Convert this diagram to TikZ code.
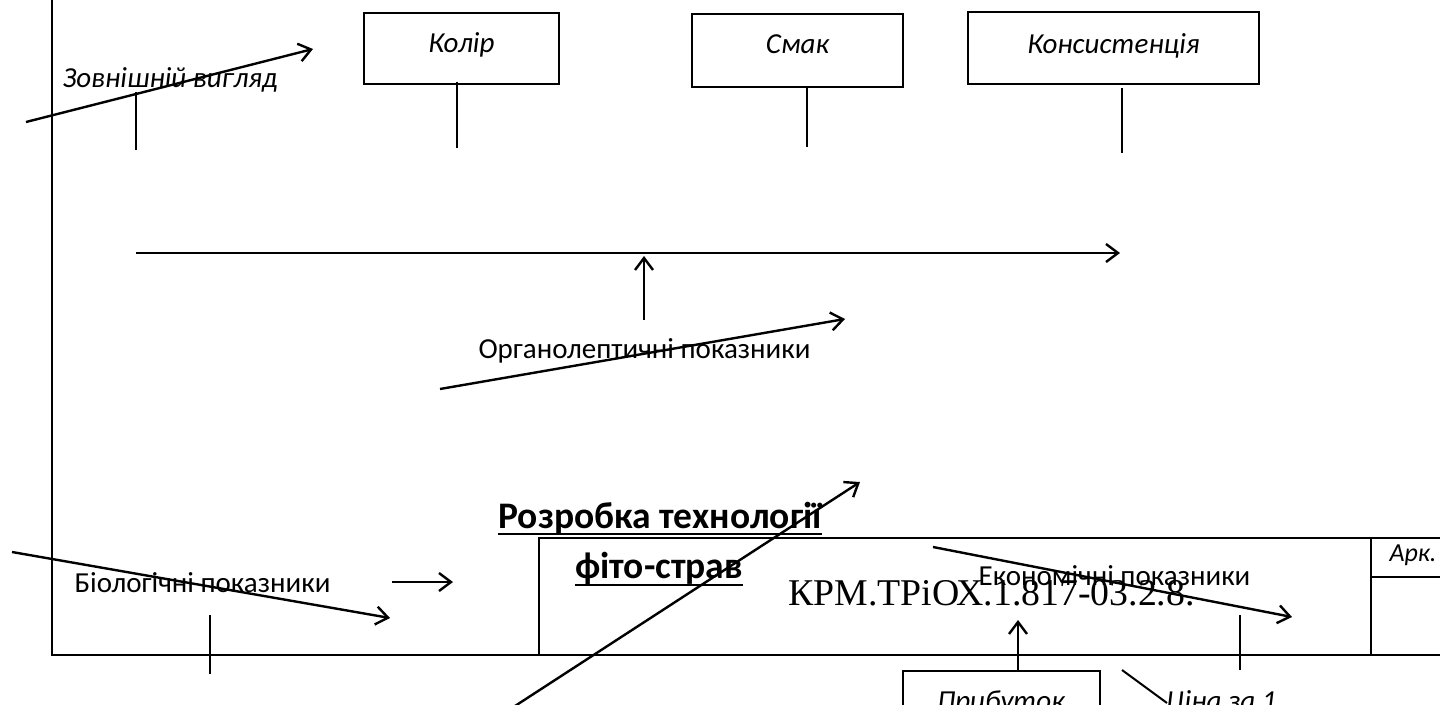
\documentclass[tikz,border=0pt]{standalone}
\usepackage{fontspec}
\setmainfont{Carlito}
\newfontfamily\tnr{Liberation Serif}
\usetikzlibrary{arrows.meta}
\begin{document}
\begin{tikzpicture}[x=1pt,y=-1pt,
  thinline/.style={line width=1.4pt},
  frameline/.style={line width=2pt},
  arr/.style={line width=2.4pt,-{Straight Barb[length=12pt,width=18pt,line width=2.4pt]}},
  boxnode/.style={draw,line width=1.8pt,inner sep=0pt},
  txt/.style={inner sep=0pt,anchor=base,font=\fontsize{29}{32}\selectfont},
  itxt/.style={txt,font=\fontsize{29}{32}\selectfont\itshape},
  btxt/.style={txt,font=\fontsize{37.5}{42}\selectfont\bfseries},
]
\clip (0,0) rectangle (1440,704);
\fill[white] (0,0) rectangle (1440,704);
% frame
\coordinate (ftop) at (52,0);
\coordinate (fcorner) at (52,655);
\coordinate (fright) at (1440,655);
\coordinate (tbl) at (539,538);
\coordinate (tbr) at (1440,538);
\coordinate (tbb) at (539,655);
\coordinate (tv1) at (1371,538);
\coordinate (tv2) at (1371,655);
\coordinate (th1) at (1371,577);
\coordinate (th2) at (1440,577);
\draw[frameline] (ftop) -- (fcorner) -- (fright);
\draw[frameline] (tbb) -- (tbl) -- (tbr);
\draw[frameline] (tv1) -- (tv2);
\draw[frameline] (th1) -- (th2);
\node[itxt,font=\fontsize{26}{29}\selectfont\itshape] (ark) at (1413,561) {Арк.};
% boxes
\node[boxnode,minimum width=195pt,minimum height=71pt] (kolir) at (461.5,48.5) {};
\node[itxt] (kolirT) at (461.5,52) {Колір};
\node[boxnode,minimum width=211pt,minimum height=73pt] (smak) at (797.5,50.5) {};
\node[itxt] (smakT) at (797.5,53) {Смак};
\node[boxnode,minimum width=291pt,minimum height=72pt] (kons) at (1113.5,48) {};
\node[itxt] (konsT) at (1113.5,53) {Консистенція};
% ticks
\coordinate (t1a) at (136,92);  \coordinate (t1b) at (136,150);
\coordinate (t2a) at (457,82);  \coordinate (t2b) at (457,148);
\coordinate (t3a) at (807,87);  \coordinate (t3b) at (807,147);
\coordinate (t4a) at (1122,88); \coordinate (t4b) at (1122,153);
\draw[thinline] (t1a) -- (t1b);
\draw[thinline] (t2a) -- (t2b);
\draw[thinline] (t3a) -- (t3b);
\draw[thinline] (t4a) -- (t4b);
% external look
\node[itxt] (zovn) at (170,87) {Зовнішній вигляд};
\coordinate (z1) at (26,122); \coordinate (z2) at (313,49);
\draw[arr] (z1) -- (z2);
% main axis
\coordinate (m1) at (136,253); \coordinate (m2) at (1120,253);
\draw[arr] (m1) -- (m2);
\coordinate (u1) at (644,320); \coordinate (u2) at (644,256);
\draw[arr] (u1) -- (u2);
\node[txt] (org) at (644.5,358) {Органолептичні показники};
\coordinate (o1) at (440,389); \coordinate (o2) at (845,319);
\draw[arr] (o1) -- (o2);
% biological
\node[txt] (bio) at (202.5,592) {Біологічні показники};
\coordinate (b1) at (12,552); \coordinate (b2) at (390,618);
\draw[arr] (b1) -- (b2);
\coordinate (s1) at (392,582); \coordinate (s2) at (453,582);
\draw[arr] (s1) -- (s2);
\coordinate (bt1) at (210,615); \coordinate (bt2) at (210,674);
\draw[thinline] (bt1) -- (bt2);
% title
\node[btxt] (roz) at (660,528) {Розробка технології};
\node[btxt] (fito) at (659,578) {фіто-страв};
\draw[line width=2.4pt] ([yshift=-6pt]roz.base west) -- ([yshift=-6pt]roz.base east);
\draw[line width=2.4pt] ([yshift=-7pt]fito.base west) -- ([yshift=-7pt]fito.base east);
\coordinate (d1) at (515,706); \coordinate (d2) at (860,482);
\draw[arr] (d1) -- (d2);
% code
\node[txt,font=\fontsize{37.8}{42}\selectfont\tnr] (code) at (991.5,605) {КРМ.ТРіОХ.1.817-03.2.8.};
% economic
\node[txt] (eco) at (1114.5,585) {Економічні показники};
\coordinate (e1) at (933,547); \coordinate (e2) at (1292,617);
\draw[arr] (e1) -- (e2);
\coordinate (et1) at (1240,615); \coordinate (et2) at (1240,670);
\draw[thinline] (et1) -- (et2);
\node[boxnode,minimum width=197pt,minimum height=70pt,anchor=north] (prib) at (1001.5,670) {};
\node[itxt] (pribT) at (1001,710) {Прибуток};
\coordinate (pa) at (1018,670); \coordinate (pu) at (1018,620);
\draw[arr] (pa) -- (pu);
\node[itxt,anchor=base west] (cina) at (1166,710) {Ціна за 1};
\coordinate (c1) at (1122,670); \coordinate (c2) at (1167,703);
\draw[line width=2pt] (c1) -- (c2);
\end{tikzpicture}
\end{document}
